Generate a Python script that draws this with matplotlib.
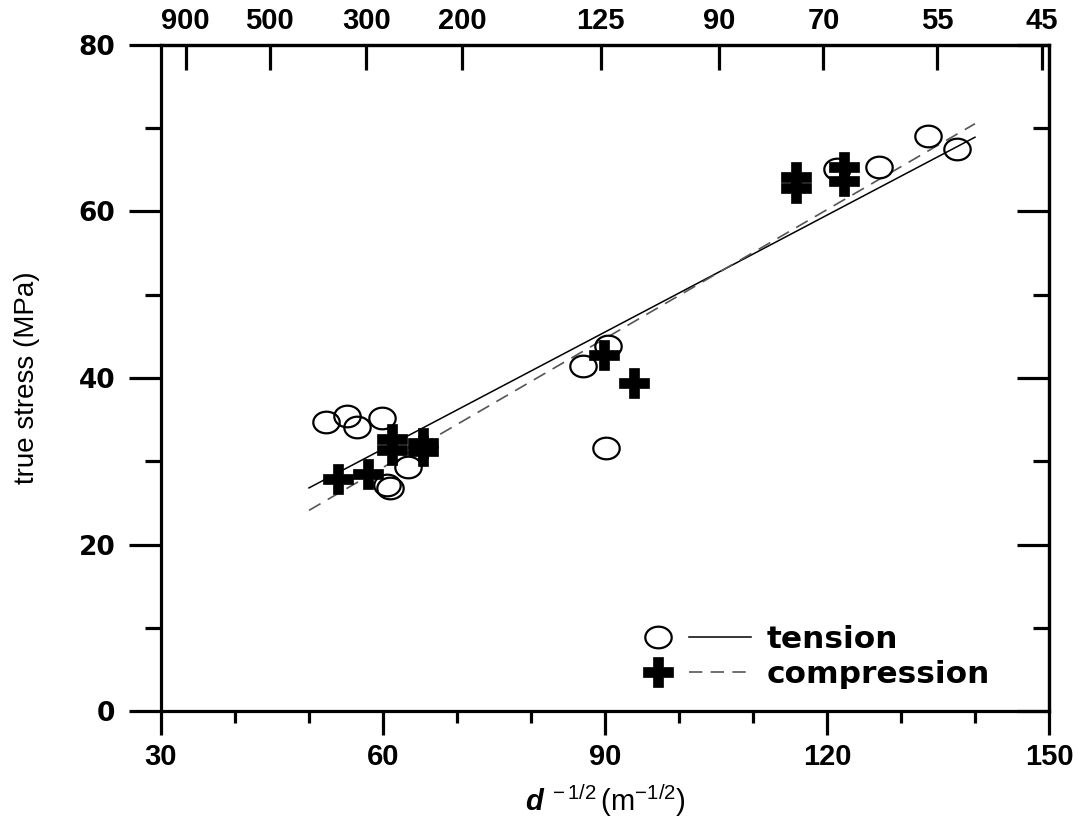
import numpy as np
import matplotlib
matplotlib.use("Agg")
import matplotlib.pyplot as plt
from matplotlib.path import Path
from matplotlib.lines import Line2D
from matplotlib.legend_handler import HandlerTuple
from matplotlib.ticker import MultipleLocator

# tension data (open circles)
ten_x = [52.3, 55.1, 56.5, 59.9, 60.5, 60.9, 63.4, 87.0, 90.4, 90.1, 121.4, 127.0, 133.6, 137.6]
ten_y = [34.7, 35.4, 34.1, 35.2, 27.1, 26.8, 29.3, 41.4, 43.8, 31.6, 65.1, 65.3, 69.1, 67.5]

# compression data (filled plus)
comp_x = [53.9, 58.0, 61.2, 61.2, 65.4, 65.4, 89.8, 93.9, 115.8, 115.8, 122.3, 122.3]
comp_y = [27.9, 28.5, 32.7, 31.4, 32.2, 31.2, 42.8, 39.4, 64.2, 62.8, 65.4, 63.7]

# linear fits: stress = a + b * d^-1/2
ten_fit = (3.4, 0.468)
comp_fit = (-1.7, 0.516)
fit_range = (50, 140)

# top axis: grain size d in micrometres
top_d = [900, 500, 300, 200, 125, 90, 70, 55, 45]

plt.rcParams['mathtext.fontset'] = 'custom'
plt.rcParams['mathtext.rm'] = 'Liberation Sans'
plt.rcParams['mathtext.it'] = 'Liberation Sans:italic'
plt.rcParams['mathtext.bf'] = 'Liberation Sans:bold'
plt.rcParams['mathtext.bfit'] = 'Liberation Sans:italic:bold'

fig = plt.figure(figsize=(10.84, 8.22), dpi=100)
ax = fig.add_axes([0.1485, 0.135, 0.8192, 0.8103])

# ellipse-ish open circle marker
t = np.linspace(0, 2 * np.pi, 60)
ell = Path(np.column_stack([np.cos(t), 0.82 * np.sin(t)]), closed=True)

xx = np.array(fit_range, dtype=float)
ax.plot(xx, ten_fit[0] + ten_fit[1] * xx, color='black', lw=1.1, zorder=2)
ax.plot(xx, comp_fit[0] + comp_fit[1] * xx, color='#555555', lw=1.2,
        dashes=(8, 5), zorder=2)
ax.plot(ten_x, ten_y, ls='none', marker=ell, ms=19, mfc='none', mec='black',
        mew=1.6, zorder=3)
ax.plot(comp_x, comp_y, ls='none', marker='P', ms=22, mfc='black', mec='black',
        mew=0.5, zorder=4)

ax.set_xlim(30, 150)
ax.set_ylim(0, 80)
ax.xaxis.set_major_locator(MultipleLocator(30))
ax.xaxis.set_minor_locator(MultipleLocator(10))
ax.yaxis.set_major_locator(MultipleLocator(20))
ax.yaxis.set_minor_locator(MultipleLocator(10))

for s in ax.spines.values():
    s.set_linewidth(2.3)

ax.tick_params(axis='x', which='major', direction='out', length=17, width=2.3, pad=6)
ax.tick_params(axis='x', which='minor', direction='out', length=8.5, width=2.3)
ax.tick_params(axis='y', which='major', direction='out', length=23, width=2.3, pad=10)
ax.tick_params(axis='y', which='minor', direction='out', length=11.5, width=2.3)
ax.tick_params(top=False, right=False, which='both')

for lab in ax.get_xticklabels():
    lab.set_fontfamily('Liberation Sans')
    lab.set_fontweight('bold')
    lab.set_fontsize(21)
for lab in ax.get_yticklabels():
    lab.set_fontfamily('DejaVu Sans')
    lab.set_fontweight('bold')
    lab.set_fontsize(19)

# right axis: inward ticks, no labels
ry = ax.secondary_yaxis('right')
ry.yaxis.set_major_locator(MultipleLocator(20))
ry.yaxis.set_minor_locator(MultipleLocator(10))
ry.tick_params(which='major', direction='in', length=23, width=2.3, labelright=False)
ry.tick_params(which='minor', direction='in', length=11.5, width=2.3)
ry.spines['right'].set_linewidth(2.3)

# top axis: grain size
tx = ax.secondary_xaxis('top')
tx.set_xticks([1000.0 / np.sqrt(d) for d in top_d], [str(d) for d in top_d])
tx.xaxis.set_minor_locator(plt.NullLocator())
tx.tick_params(direction='in', length=18, width=2.3, pad=7)
tx.spines['top'].set_linewidth(2.3)
for lab in tx.get_xticklabels():
    lab.set_fontfamily('Liberation Sans')
    lab.set_fontweight('bold')
    lab.set_fontsize(21)

ax.set_ylabel('true stress (MPa)', fontsize=20, family='Liberation Sans', labelpad=28)
ax.set_xlabel(r'$\mathbfit{d}^{\ -1/2}\,(\mathrm{m}^{-1/2})$', fontsize=21, labelpad=8)

h_ten = (Line2D([], [], ls='none', marker=ell, ms=19, mfc='none', mec='black', mew=1.6),
         Line2D([], [], color='black', lw=1.1))
h_comp = (Line2D([], [], ls='none', marker='P', ms=22, mfc='black', mec='black', mew=0.5),
          Line2D([], [], color='#555555', lw=1.2, dashes=(8, 5)))
ax.legend([h_ten, h_comp], ['tension', 'compression'],
          handler_map={tuple: HandlerTuple(ndivide=None, pad=0)},
          loc='upper left', bbox_to_anchor=(0.524, 0.129), frameon=False,
          borderpad=0, borderaxespad=0, handlelength=4.0, handletextpad=0.5,
          labelspacing=0.2,
          prop={'family': 'DejaVu Sans', 'weight': 'bold', 'size': 22.5})

fig.savefig('out.png', dpi=100)
